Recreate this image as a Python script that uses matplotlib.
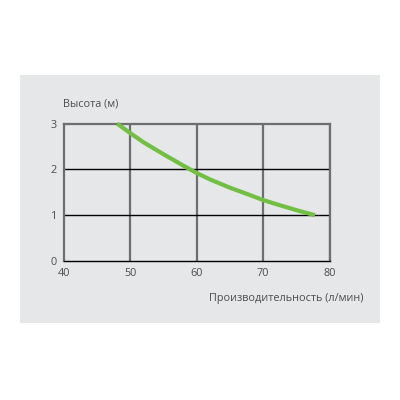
import matplotlib
matplotlib.use("Agg")
import matplotlib.pyplot as plt
from matplotlib.patches import Rectangle

flow = [48.0, 50.0, 52.0, 55.0, 58.0, 60.0, 62.0, 65.0, 68.0, 70.0, 72.0, 75.0, 77.8]
head = [3.0, 2.79, 2.59, 2.33, 2.08, 1.92, 1.78, 1.60, 1.44, 1.33, 1.24, 1.11, 1.0]
x_ticks = [40, 50, 60, 70, 80]
y_ticks = [0, 1, 2, 3]
x_label = "Производительность (л/мин)"
y_label = "Высота (м)"

plt.rcParams['font.family'] = ['Open Sans', 'DejaVu Sans']
text_color = '#4d4d4f'
grid_gray = '#6d6e70'
bg = '#e6e7e8'

fig = plt.figure(figsize=(4, 4), dpi=100, facecolor='white')
fig.patches.append(Rectangle((0.05, 0.1925), 0.9, 0.62, transform=fig.transFigure,
                             facecolor=bg, edgecolor='none', zorder=-5))
ax = fig.add_axes([0.16, 0.3475, 0.664, 0.3435])
ax.set_zorder(2)
ax.patch.set_alpha(0)
ax.set_xlim(40, 80)
ax.set_ylim(0, 3)

# grid lines
for xv in x_ticks[1:]:
    ax.axvline(xv, color=grid_gray, lw=1.6, zorder=1)
for yv in y_ticks[1:3]:
    ax.axhline(yv, color='black', lw=1.0, zorder=1)

for s in ['top', 'left', 'right']:
    ax.spines[s].set_color(grid_gray)
    ax.spines[s].set_linewidth(1.6)
ax.spines['bottom'].set_color('black')
ax.spines['bottom'].set_linewidth(1.0)

ax.plot(flow, head, color='#72bf44', lw=3.0, solid_capstyle='butt',
        solid_joinstyle='round', zorder=3, clip_on=False)

ax.set_xticks(x_ticks)
ax.set_yticks(y_ticks)
ax.tick_params(length=0, labelsize=7.8, colors=text_color, pad=5)
ax.set_xticklabels([str(v) for v in x_ticks])
ax.set_yticklabels([str(v) for v in y_ticks])

fig.text(0.158, 0.74, y_label, fontsize=7.8, color=text_color, ha='left', va='center')
fig.text(0.908, 0.253, x_label, fontsize=7.8, color=text_color, ha='right', va='center')

fig.savefig('out.png', dpi=100, facecolor='white')
